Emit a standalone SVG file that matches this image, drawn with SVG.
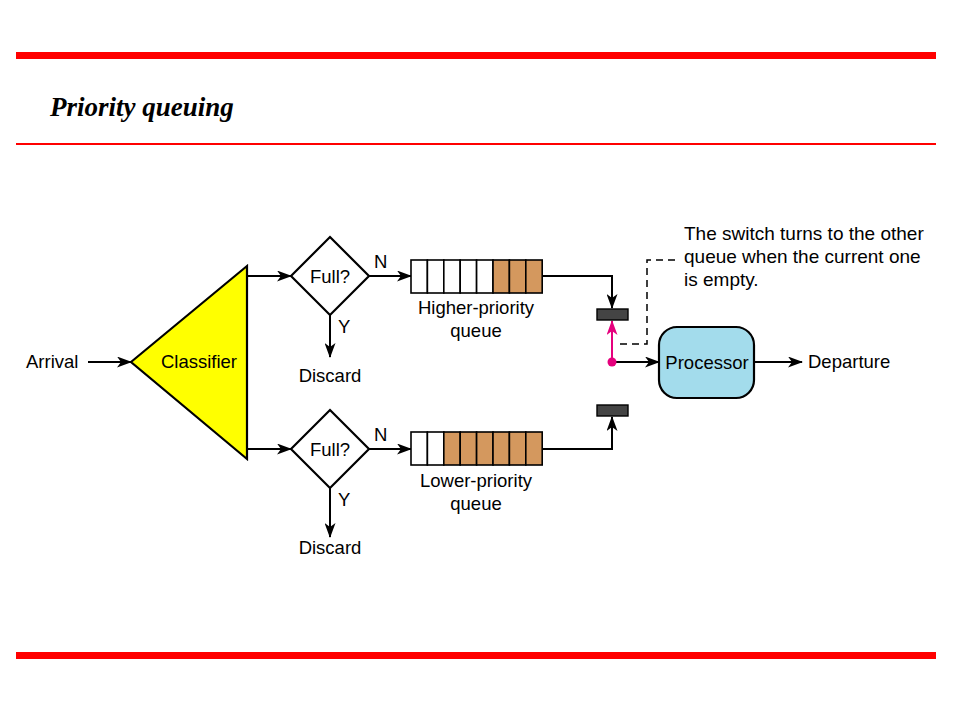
<svg xmlns="http://www.w3.org/2000/svg" width="960" height="720" viewBox="0 0 960 720">
  <style>
    .t { font-family: "Liberation Sans", Arial, sans-serif; font-size: 18.5px; fill: #000; }
    .n { font-size: 19px; }
    .c { text-anchor: middle; }
    .ln { fill: none; stroke: #000; stroke-width: 2; }
    .sh { stroke: #000; stroke-width: 2.2; stroke-linejoin: miter; }
    .cell { stroke: #000; stroke-width: 1.6; }
    .w { fill: #fff; }
    .o { fill: #D4985E; }
    .bar { fill: #444; stroke: #000; stroke-width: 1.4; }
  </style>
  <defs>
    <marker id="ah" markerWidth="15" markerHeight="11" refX="14" refY="5.5" orient="auto" markerUnits="userSpaceOnUse">
      <path d="M0,0 L15,5.5 L0,11 L4,5.5 z" fill="#000"/>
    </marker>
    <marker id="ahp" markerWidth="15" markerHeight="11" refX="14" refY="5.5" orient="auto" markerUnits="userSpaceOnUse">
      <path d="M0,0 L15,5.5 L0,11 L4,5.5 z" fill="#E5007D"/>
    </marker>
  </defs>

  <rect width="960" height="720" fill="#fff"/>

  <!-- slide frame -->
  <rect x="16" y="52" width="920" height="7" fill="#FF0000"/>
  <rect x="16" y="143" width="920" height="2" fill="#FF0000"/>
  <rect x="16" y="652" width="920" height="7" fill="#FF0000"/>
  <text x="50" y="116" font-family="'Liberation Serif', 'Times New Roman', serif" font-size="27" font-weight="bold" font-style="italic">Priority queuing</text>

  <!-- connectors -->
  <g id="connectors">
    <line class="ln" x1="88" y1="362" x2="131" y2="362" marker-end="url(#ah)"/>
    <line class="ln" x1="247" y1="276" x2="291" y2="276" marker-end="url(#ah)"/>
    <line class="ln" x1="247" y1="449" x2="291" y2="449" marker-end="url(#ah)"/>
    <line class="ln" x1="369" y1="276" x2="411" y2="276" marker-end="url(#ah)"/>
    <line class="ln" x1="369" y1="449" x2="411" y2="449" marker-end="url(#ah)"/>
    <line class="ln" x1="330" y1="315" x2="330" y2="357" marker-end="url(#ah)"/>
    <line class="ln" x1="330" y1="487" x2="330" y2="537" marker-end="url(#ah)"/>
    <polyline class="ln" points="542,276 612,276 612,308" marker-end="url(#ah)"/>
    <polyline class="ln" points="542,449 612,449 612,417" marker-end="url(#ah)"/>
    <line class="ln" x1="612" y1="362" x2="659" y2="362" marker-end="url(#ah)"/>
    <line class="ln" x1="754" y1="362" x2="802" y2="362" marker-end="url(#ah)"/>
    <line fill="none" stroke="#E5007D" stroke-width="2" x1="612" y1="362" x2="612" y2="321" marker-end="url(#ahp)"/>
    <circle cx="612" cy="362" r="4.5" fill="#E5007D"/>
    <polyline fill="none" stroke="#000" stroke-width="1.5" stroke-dasharray="7,5" points="620,344 647,344 647,260 676,260"/>
  </g>

  <g id="arrival"><text class="t" x="26" y="368">Arrival</text></g>

  <g id="classifier">
    <polygon class="sh" points="131,362 247,266 247,459" fill="#FFFF00"/>
    <text class="t c" x="199" y="368">Classifier</text>
  </g>

  <g id="full-high">
    <polygon class="sh" points="330,237 369,276 330,315 291,276" fill="#fff"/>
    <text class="t c" x="330" y="283">Full?</text>
    <text class="t" x="374" y="268">N</text>
    <text class="t" x="338" y="333">Y</text>
  </g>
  <g id="discard-high"><text class="t c" x="330" y="382">Discard</text></g>

  <g id="full-low">
    <polygon class="sh" points="330,410 369,449 330,488 291,449" fill="#fff"/>
    <text class="t c" x="330" y="456">Full?</text>
    <text class="t" x="374" y="441">N</text>
    <text class="t" x="338" y="506">Y</text>
  </g>
  <g id="discard-low"><text class="t c" x="330" y="554">Discard</text></g>

  <g id="queue-high">
    <rect class="cell w" x="411" y="260" width="16.4" height="33"/>
    <rect class="cell w" x="427.4" y="260" width="16.4" height="33"/>
    <rect class="cell w" x="443.8" y="260" width="16.4" height="33"/>
    <rect class="cell w" x="460.2" y="260" width="16.4" height="33"/>
    <rect class="cell w" x="476.6" y="260" width="16.4" height="33"/>
    <rect class="cell o" x="493" y="260" width="16.4" height="33"/>
    <rect class="cell o" x="509.4" y="260" width="16.4" height="33"/>
    <rect class="cell o" x="525.8" y="260" width="16.4" height="33"/>
    <text class="t c" x="476" y="314">Higher-priority</text>
    <text class="t c" x="476" y="337">queue</text>
  </g>

  <g id="queue-low">
    <rect class="cell w" x="411" y="432" width="16.4" height="33"/>
    <rect class="cell w" x="427.4" y="432" width="16.4" height="33"/>
    <rect class="cell o" x="443.8" y="432" width="16.4" height="33"/>
    <rect class="cell o" x="460.2" y="432" width="16.4" height="33"/>
    <rect class="cell o" x="476.6" y="432" width="16.4" height="33"/>
    <rect class="cell o" x="493" y="432" width="16.4" height="33"/>
    <rect class="cell o" x="509.4" y="432" width="16.4" height="33"/>
    <rect class="cell o" x="525.8" y="432" width="16.4" height="33"/>
    <text class="t c" x="476" y="487">Lower-priority</text>
    <text class="t c" x="476" y="510">queue</text>
  </g>

  <g id="switch-high"><rect class="bar" x="597" y="309" width="31" height="11"/></g>
  <g id="switch-low"><rect class="bar" x="597" y="405" width="31" height="11"/></g>

  <g id="processor">
    <rect x="659" y="327" width="95" height="71" rx="18" fill="#A3DCEC" stroke="#000" stroke-width="2.2"/>
    <text class="t c" x="707" y="369">Processor</text>
  </g>

  <g id="departure"><text class="t" x="808" y="368">Departure</text></g>

  <g id="note">
    <text class="t n" x="684" y="240">The switch turns to the other</text>
    <text class="t n" x="684" y="263">queue when the current one</text>
    <text class="t n" x="684" y="286">is empty.</text>
  </g>
</svg>
